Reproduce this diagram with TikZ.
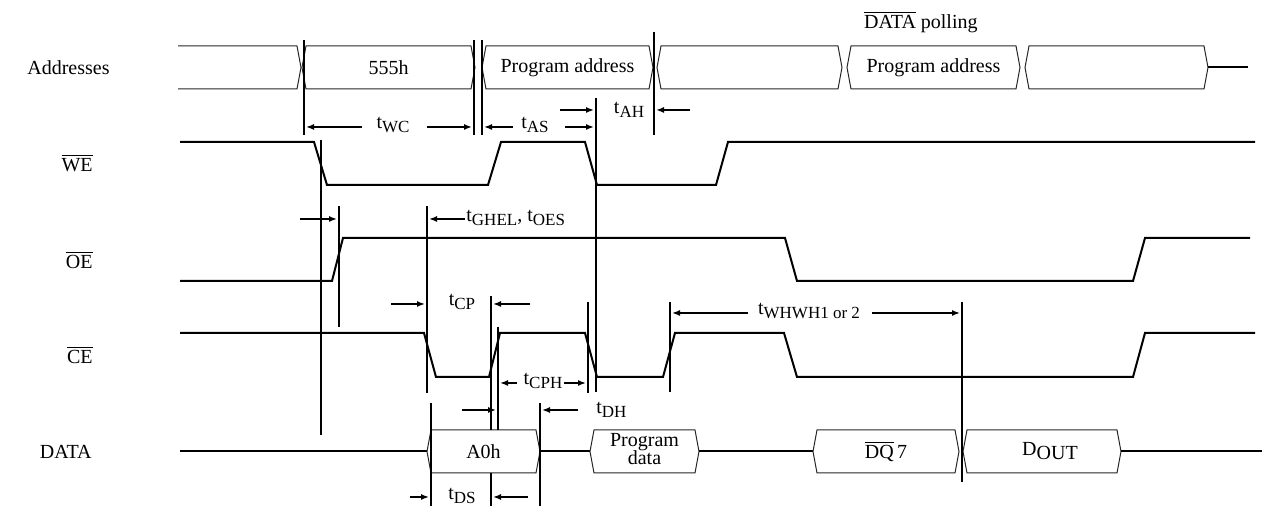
\documentclass[tikz,border=0pt]{standalone}
\usepackage{fontspec}
\setmainfont{Liberation Serif}
\usetikzlibrary{arrows.meta}

\newcommand{\tsub}[1]{t\raisebox{-2pt}{\fontsize{8.5}{9}\selectfont #1}}
\newcommand{\ovl}[1]{$\overline{\hbox{#1}}$}
% hex bus segment: name, left tip, right tip, mid y, text
\newcommand{\hexseg}[5]{%
  \draw[bus] (#2,#4) -- ({#2+4},{#4-21.5}) -- ({#3-4},{#4-21.5}) -- (#3,#4)
    -- ({#3-4},{#4+21.5}) -- ({#2+4},{#4+21.5}) -- cycle;
  \node[lbl] (#1) at ({(#2+#3)/2},#4) {#5};}

\begin{document}
\begin{tikzpicture}[x=0.5pt,y=-0.5pt,
    lbl/.style={inner sep=0pt,font=\fontsize{10}{11}\selectfont},
    sig/.style={line width=1pt},
    bus/.style={line width=0.5pt,draw=black!85},
    tline/.style={line width=1pt},
    dim/.style={line width=0.75pt,-{Latex[length=4pt,width=3pt]}}]
\useasboundingbox (0,0) rectangle (1265,506);

% signal names
\node[lbl,anchor=east] (addr) at (110,68) {Addresses};
\node[lbl,anchor=east] (we) at (93,163) {\ovl{WE}};
\node[lbl,anchor=east] (oe) at (93,260) {\ovl{OE}};
\node[lbl,anchor=east] (ce) at (93,355) {\ovl{CE}};
\node[lbl,anchor=east] (data) at (92,452) {DATA};
\node[lbl,anchor=east] (poll) at (978,22) {\ovl{DATA} polling};

% address bus
\draw[bus] (178,46) -- (297,46) -- (301,67.5) -- (297,89) -- (178,89);
\hexseg{a1}{302}{475}{67.5}{555h}
\hexseg{a2}{482}{653}{67.5}{Program address}
\hexseg{a3}{657}{842}{67.5}{}
\hexseg{a4}{847}{1020}{67.5}{Program address}
\hexseg{a5}{1025}{1208}{67.5}{}
\draw[sig] (1208,67.5) -- (1248,67.5);

% control signals
\draw[sig] (180,142) -- (314,142) -- (327,185) -- (488,185) -- (501,142) -- (585,142)
  -- (597,185) -- (716,185) -- (728,142) -- (1255,142);
\draw[sig] (180,281) -- (332,281) -- (343,238) -- (785,238) -- (797,281) -- (1133,281)
  -- (1145,238) -- (1250,238);
\draw[sig] (180,333) -- (424,333) -- (436,377) -- (489,377) -- (500,333) -- (585,333)
  -- (597,377) -- (663,377) -- (675,333) -- (784,333) -- (797,377) -- (1133,377)
  -- (1145,333) -- (1255,333);

% data bus
\draw[sig] (180,451.5) -- (427,451.5);
\hexseg{d1}{427}{540}{451.5}{A0h}
\draw[sig] (540,451.5) -- (590,451.5);
\hexseg{d2}{590}{699}{451.5}{\fontsize{10}{8.5}\selectfont\begin{tabular}{@{}c@{}}Program\\data\end{tabular}}
\draw[sig] (699,451.5) -- (813,451.5);
\hexseg{d3}{813}{959}{451.5}{\ovl{DQ}\,7}
\hexseg{d4}{963}{1121}{451.5}{\hspace{8pt}D\raisebox{-2pt}{OUT}}
\draw[sig] (1121,451.5) -- (1262,451.5);

% timing reference lines
\foreach \x/\ya/\yb in {304/40/135, 474/40/135, 482/40/135, 596/98/392, 654/32/135,
    321/140/435, 339/206/327, 427/206/393, 431/403/506, 491/296/430, 491/473/506,
    498/327/430, 540/403/506, 588/302/393, 670/302/392, 962/302/482}
  \draw[tline] (\x,\ya) -- (\x,\yb);

% timing labels
\node[lbl] (twc) at (393,125) {\tsub{WC}};
\node[lbl] (tas) at (535,125) {\tsub{AS}};
\node[lbl] (tah) at (629,110) {\tsub{AH}};
\node[lbl,anchor=west] (toes) at (466,218) {\tsub{GHEL}, \tsub{OES}};
\node[lbl] (tcp) at (462,302) {\tsub{CP}};
\node[lbl] (tcph) at (543,381) {\tsub{CPH}};
\node[lbl,anchor=west] (tdh) at (596,410) {\tsub{DH}};
\node[lbl] (tds) at (462,496) {\tsub{DS}};
\node[lbl] (twh) at (809,311) {\tsub{WHWH1 or 2}};

% dimension arrows
\draw[dim] (362,127) -- (306,127);
\draw[dim] (427,127) -- (472,127);
\draw[dim] (513,127) -- (484,127);
\draw[dim] (565,127) -- (594,127);
\draw[dim] (560,110) -- (594,110);
\draw[dim] (690,110) -- (656,110);
\draw[dim] (300,219) -- (337,219);
\draw[dim] (465,219) -- (429,219);
\draw[dim] (391,304) -- (425,304);
\draw[dim] (530,304) -- (493,304);
\draw[dim] (517,383) -- (500,383);
\draw[dim] (564,383) -- (586,383);
\draw[dim] (462,410) -- (496,410);
\draw[dim] (578,410) -- (542,410);
\draw[dim] (410,497) -- (429,497);
\draw[dim] (528,497) -- (493,497);
\draw[dim] (748,313) -- (672,313);
\draw[dim] (872,313) -- (960,313);
\end{tikzpicture}
\end{document}
